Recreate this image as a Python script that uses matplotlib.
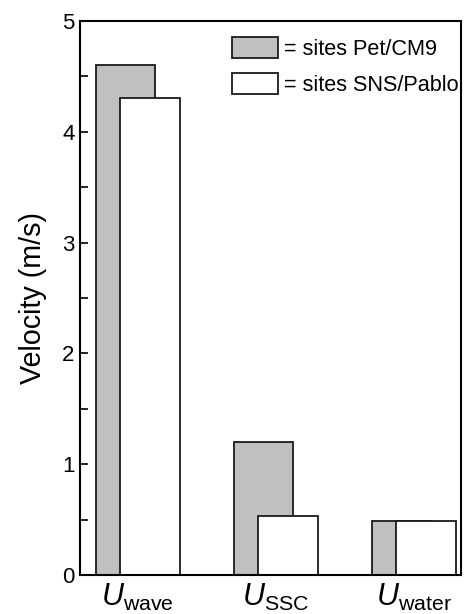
import numpy as np
import matplotlib
matplotlib.use("Agg")
import matplotlib.pyplot as plt
from matplotlib.patches import Patch

plt.rcParams['font.family'] = ['Liberation Sans', 'DejaVu Sans']
plt.rcParams['mathtext.fontset'] = 'custom'
plt.rcParams['mathtext.rm'] = 'Liberation Sans'
plt.rcParams['mathtext.it'] = 'Liberation Sans:italic'

categories = [r'$\mathit{U}_{\mathrm{wave}}$', r'$\mathit{U}_{\mathrm{SSC}}$', r'$\mathit{U}_{\mathrm{water}}$']
pet_cm9 = [4.6, 1.2, 0.49]
sns_pablo = [4.3, 0.53, 0.49]
series_labels = ['= sites Pet/CM9', '= sites SNS/Pablo']

fig = plt.figure(figsize=(4.65, 6.14), dpi=100)
ax = fig.add_axes([0.172, 0.0635, 0.819, 0.9025])

x = np.arange(len(categories))
w = 0.433
off = 0.089
ax.bar(x - off, pet_cm9, width=w, color='#c0c0c0', edgecolor='#1a1a1a', linewidth=1.3)
ax.bar(x + off, sns_pablo, width=w, color='white', edgecolor='#1a1a1a', linewidth=1.3)

ax.set_xlim(-0.418, 2.34)
ax.set_ylim(0, 5)
ax.set_yticks([0, 1, 2, 3, 4, 5])
ax.set_yticks(np.arange(0.5, 5, 1), minor=True)
ax.set_xticks(x)
ax.set_xticklabels(categories, fontsize=22)
ax.tick_params(axis='y', which='both', direction='in', length=6, width=1.2, labelsize=16, pad=4)
ax.tick_params(axis='x', length=0, pad=5)
ax.set_ylabel('Velocity (m/s)', fontsize=20.7, labelpad=11)
for s in ax.spines.values():
    s.set_linewidth(1.5)

handles = [Patch(facecolor='#c0c0c0', edgecolor='#1a1a1a', linewidth=1.3),
           Patch(facecolor='white', edgecolor='#1a1a1a', linewidth=1.3)]
ax.legend(handles, series_labels, loc='upper right', bbox_to_anchor=(1.0, 0.975),
          frameon=False, fontsize=15.6, handlelength=2.12, handleheight=1.12,
          handletextpad=0.28, labelspacing=0.6, borderpad=0, borderaxespad=0.1)

fig.savefig('out.png', dpi=100)
